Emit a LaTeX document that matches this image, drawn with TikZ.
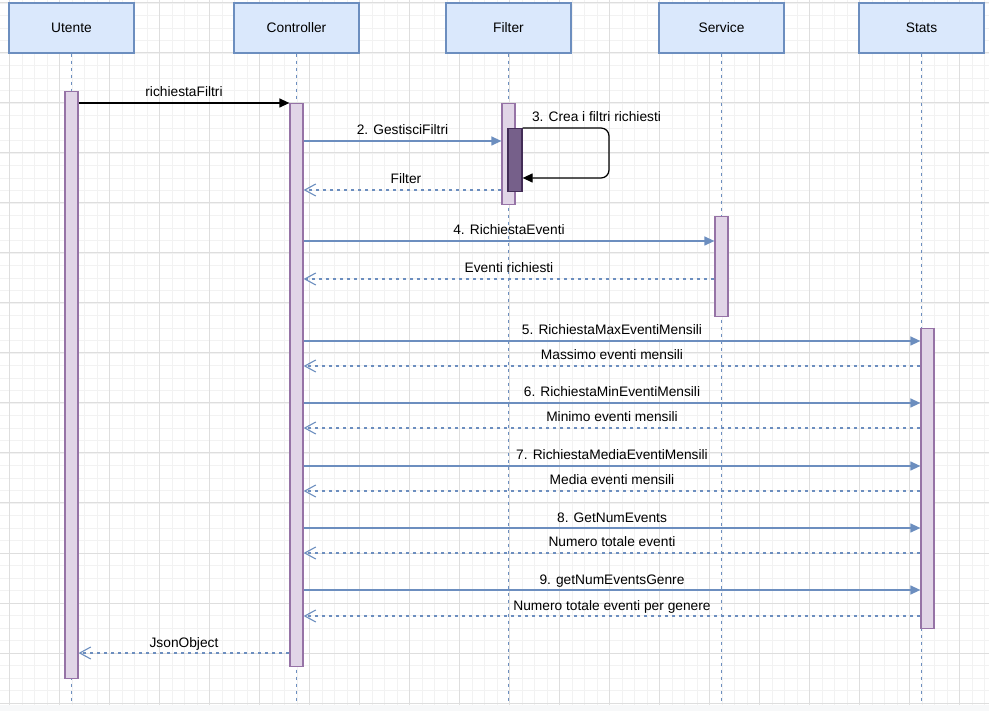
\documentclass[tikz,border=0pt]{standalone}
\usepackage{fontspec}
\setmainfont{Liberation Sans}
\usetikzlibrary{arrows.meta}

\definecolor{headfill}{HTML}{DAE8FC}
\definecolor{headline}{HTML}{6C8EBF}
\definecolor{actfill}{HTML}{E1D5E7}
\definecolor{actline}{HTML}{9673A6}
\definecolor{actdarkfill}{HTML}{76608A}
\definecolor{actdarkline}{HTML}{432D57}
\definecolor{gridminor}{HTML}{F2F2F2}
\definecolor{gridmajor}{HTML}{DEDEDE}
\definecolor{bandfill}{HTML}{F7F8F9}

\tikzset{
  every node/.style={font=\fontsize{13.75pt}{16pt}\selectfont, inner sep=0pt},
  head/.style={draw=headline, fill=headfill, line width=1.25pt,
    minimum width=125pt, minimum height=50pt},
  life/.style={draw=headline, line width=1.25pt, dash pattern=on 3.5pt off 3.5pt},
  act/.style={draw=actline, fill=actfill, line width=1.25pt,
    minimum width=13pt, anchor=north},
  actdark/.style={draw=actdarkline, fill=actdarkfill, line width=1.25pt,
    minimum width=14pt, anchor=north},
  call/.style={draw=headline, line width=1.25pt,
    -{Triangle[length=10pt,width=9pt]}},
  callblack/.style={draw=black, line width=1.25pt,
    -{Triangle[length=10pt,width=9pt]}},
  reply/.style={draw=headline, line width=1.25pt, dash pattern=on 3.5pt off 3.5pt,
    -{Straight Barb[length=11pt,width=12pt,line width=1.1pt]}},
  lbl/.style={anchor=base},
}

\begin{document}
\begin{tikzpicture}[x=1pt,y=-1pt]
  \useasboundingbox (0,0) rectangle (989,711);

  % background grid
  \fill[white] (0,0) rectangle (989,711);
  \foreach \i in {0,...,78} {
    \draw[gridminor, line width=0.8pt] (9.5+12.5*\i,0) -- (9.5+12.5*\i,705);
  }
  \foreach \i in {0,...,56} {
    \draw[gridminor, line width=0.8pt] (0,3+12.5*\i) -- (989,3+12.5*\i);
  }
  \foreach \i in {0,...,19} {
    \draw[gridmajor, line width=1pt] (9.5+50*\i,0) -- (9.5+50*\i,705);
  }
  \foreach \i in {0,...,14} {
    \draw[gridmajor, line width=1pt] (0,3+50*\i) -- (989,3+50*\i);
  }
  \fill[bandfill] (0,705) rectangle (989,711);

  % participants
  \node[head] (hU) at (71.5,28)  {Utente};
  \node[head] (hC) at (296.5,28) {Controller};
  \node[head] (hF) at (508.5,28) {Filter};
  \node[head] (hS) at (721.5,28) {Service};
  \node[head] (hT) at (921.5,28) {Stats};

  % lifelines
  \foreach \h in {hU,hC,hF,hS,hT} {
    \draw[life] (\h.south) -- (\h.south |- 0,703);
  }

  % activation bars
  \node[act, minimum height=587pt] (aU) at (71.5,91)  {};
  \node[act, minimum height=563pt] (aC) at (296.5,103) {};
  \node[act, minimum height=101pt] (aF) at (508.5,103) {};
  \node[actdark, minimum height=63pt] (aFd) at (515,128) {};
  \node[act, minimum height=100pt] (aS) at (721.5,216) {};
  \node[act, minimum height=300pt] (aT) at (927.5,328) {};

  % 1. request from the user
  \draw[callblack] (aU.east |- 0,103) -- (aC.north west);
  \node[lbl] (l1) at (184,96.5) {richiestaFiltri};

  % 2. filter handling
  \draw[call] (aC.east |- 0,141) -- (aF.west |- 0,141);
  \node[lbl] (l2) at (402.5,134.5) {2. GestisciFiltri};

  % 3. self call on Filter
  \draw[callblack, rounded corners=8pt] (aFd.north east) -- (609,128) -- (609,178) -- (aFd.east |- 0,178);
  \node[lbl] (l3) at (596.5,122) {3. Crea i filtri richiesti};

  \draw[reply] (aF.west |- 0,190) -- (aC.east |- 0,190);
  \node[lbl] (l3r) at (406,184) {Filter};

  % 4. events from the service
  \draw[call] (aC.east |- 0,241) -- (aS.west |- 0,241);
  \node[lbl] (l4) at (509,235) {4. RichiestaEventi};
  \draw[reply] (aS.west |- 0,279) -- (aC.east |- 0,279);
  \node[lbl] (l4r) at (509,273) {Eventi richiesti};

  % 5.-9. statistics
  \draw[call] (aC.east |- 0,341) -- (aT.west |- 0,341);
  \node[lbl] (l5) at (612,335) {5. RichiestaMaxEventiMensili};
  \draw[reply] (aT.west |- 0,366) -- (aC.east |- 0,366);
  \node[lbl] (l5r) at (612,360) {Massimo eventi mensili};

  \draw[call] (aC.east |- 0,403) -- (aT.west |- 0,403);
  \node[lbl] (l6) at (612,397) {6. RichiestaMinEventiMensili};
  \draw[reply] (aT.west |- 0,428) -- (aC.east |- 0,428);
  \node[lbl] (l6r) at (612,422) {Minimo eventi mensili};

  \draw[call] (aC.east |- 0,466) -- (aT.west |- 0,466);
  \node[lbl] (l7) at (612,460) {7. RichiestaMediaEventiMensili};
  \draw[reply] (aT.west |- 0,491) -- (aC.east |- 0,491);
  \node[lbl] (l7r) at (612,485) {Media eventi mensili};

  \draw[call] (aC.east |- 0,528) -- (aT.west |- 0,528);
  \node[lbl] (l8) at (612,522) {8. GetNumEvents};
  \draw[reply] (aT.west |- 0,553) -- (aC.east |- 0,553);
  \node[lbl] (l8r) at (612,547) {Numero totale eventi};

  \draw[call] (aC.east |- 0,590) -- (aT.west |- 0,590);
  \node[lbl] (l9) at (612,584) {9. getNumEventsGenre};
  \draw[reply] (aT.west |- 0,616) -- (aC.east |- 0,616);
  \node[lbl] (l9r) at (612,610) {Numero totale eventi per genere};

  % response to the user
  \draw[reply] (aC.west |- 0,653) -- (aU.east |- 0,653);
  \node[lbl] (l10) at (184,647) {JsonObject};
\end{tikzpicture}
\end{document}
